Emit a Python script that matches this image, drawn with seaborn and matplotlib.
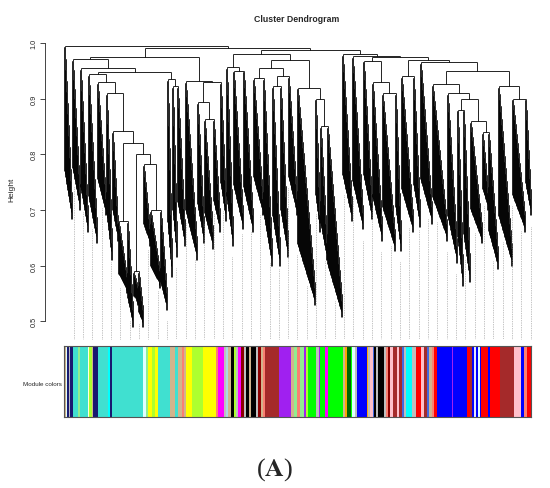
import numpy as np
import matplotlib
matplotlib.use("Agg")
import matplotlib.pyplot as plt
from matplotlib.collections import LineCollection
from matplotlib.colors import ListedColormap
import seaborn as sns

sns.set_style("ticks")
plt.rcParams["font.family"] = ["Liberation Sans", "DejaVu Sans"]
plt.rcParams["mathtext.fontset"] = "stix"

GENES_PER_BIN = 2

# gene-tree branches, left to right: width (bins) and lowest leaf height
branch_width = [8, 8, 8, 9, 9, 6, 6, 9, 6, 5,
                5, 7, 10, 7, 5, 5, 8, 12, 7, 9,
                7, 6, 7, 10, 10, 10, 9, 8, 8, 9,
                18, 5, 7, 15, 10, 11, 9, 10, 13, 6,
                12, 7, 12, 15, 10, 6, 7, 12, 6, 10,
                14, 13, 6]
branch_bottom = [0.683, 0.70, 0.66, 0.64, 0.69, 0.61, 0.645, 0.55, 0.49, 0.53,
                 0.49, 0.635, 0.56, 0.52, 0.58, 0.615, 0.635, 0.61, 0.64, 0.63,
                 0.66, 0.68, 0.635, 0.665, 0.66, 0.69, 0.60, 0.60, 0.615, 0.69,
                 0.53, 0.66, 0.61, 0.507, 0.68, 0.665, 0.683, 0.645, 0.626, 0.626,
                 0.66, 0.67, 0.675, 0.645, 0.605, 0.563, 0.57, 0.64, 0.70, 0.594,
                 0.60, 0.66, 0.69]
# height at which neighbouring branches merge
merge_height = [0.995, 0.971, 0.955, 0.944, 0.93, 0.91, 0.842, 0.68, 0.82, 0.59,
                0.80, 0.782, 0.70, 0.948, 0.935, 0.923, 0.975, 0.932, 0.894, 0.863,
                0.93, 0.991, 0.957, 0.95, 0.98, 0.937, 0.955, 0.923, 0.94, 0.97,
                0.92, 0.90, 0.85, 0.988, 0.98, 0.976, 0.968, 0.93, 0.91, 0.975,
                0.94, 0.97, 0.966, 0.926, 0.91, 0.88, 0.90, 0.86, 0.84, 0.95,
                0.923, 0.90]

# module colour strip, left to right (bins)
module_colors = ["tan", "lightcyan", "midnightblue", "#BEBEBE", "midnightblue", "turquoise", "lightgreen",
                 "turquoise", "lightyellow", "greenyellow", "tan", "midnightblue", "turquoise", "cyan",
                 "midnightblue", "turquoise", "lightcyan", "lightgreen", "yellow", "greenyellow", "yellow",
                 "turquoise", "tan", "turquoise", "tan", "salmon", "tan", "yellow", "greenyellow", "yellow",
                 "salmon", "magenta", "#BEBEBE", "lightblue", "tan", "black", "greenyellow", "#BEBEBE",
                 "magenta", "darkred", "#BEBEBE", "black", "tan", "black", "#BEBEBE", "darkred", "tan",
                 "salmon", "brown", "#A020F0", "tan", "lightgreen", "salmon", "lightgreen", "#A020F0",
                 "greenyellow", "#00FF00", "#BEBEBE", "#A020F0", "#00FF00", "magenta", "#00FF00", "tan",
                 "orange", "darkgreen", "#00FF00", "lightcyan", "#BEBEBE", "blue", "orange", "#BEBEBE",
                 "pink", "royalblue", "black", "#BEBEBE", "black", "#BEBEBE", "salmon", "darkred", "pink",
                 "brown", "pink", "brown", "royalblue", "#BEBEBE", "cyan", "#BEBEBE", "red", "pink", "brown",
                 "royalblue", "tan", "salmon", "red", "blue", "#A020F0", "blue", "red", "brown", "blue",
                 "lavender", "blue", "lightcyan", "blue", "red", "blue", "red", "brown", "pink", "blue",
                 "salmon", "red"]
module_width = [2, 1, 2, 1, 3, 5, 2,
                8, 1, 3, 1, 5, 10, 2,
                2, 31, 3, 2, 4, 3, 3,
                12, 5, 3, 4, 2, 2, 6, 11, 13,
                2, 6, 2, 2, 3, 3, 2, 2,
                3, 3, 2, 3, 2, 5, 2, 3, 2,
                2, 14, 12, 3, 3, 3, 4, 2,
                2, 8, 3, 1, 5, 3, 15, 2,
                2, 4, 1, 3, 2, 10, 1, 2,
                3, 1, 2, 2, 6, 2, 2, 2, 3,
                4, 2, 3, 2, 2, 6, 4, 5, 3, 3,
                2, 3, 2, 3, 15, 1, 14, 3, 2, 2,
                2, 2, 2, 1, 7, 2, 10, 14, 7, 3,
                3, 4]

y_ticks = [0.5, 0.6, 0.7, 0.8, 0.9, 1.0]

HANG = 0.03
DROP = 0.72

widths = np.array(branch_width) * GENES_PER_BIN
starts = np.concatenate([[0], np.cumsum(widths)[:-1]])
n_leaves = int(widths.sum())
leaf_end = np.zeros(n_leaves)
segs = []


def draw_branch(i):
    n = int(widths[i])
    s = int(starts[i])
    left = merge_height[i - 1] if i > 0 else 1.0
    right = merge_height[i] if i < len(merge_height) else 1.0
    top = min(left, right) - 0.003
    bot = branch_bottom[i]
    joins = np.linspace(top, bot + HANG, n - 1)
    xn, hn = s + n - 1, bot
    leaf_end[s + n - 1] = bot
    for j in range(n - 2, -1, -1):
        xj, hj = s + j, joins[j]
        low = hj - max(HANG, DROP * (hj - bot))
        leaf_end[xj] = low
        segs.append([(xj, hj), (xj, low)])
        segs.append([(xj, hj), (xn, hj)])
        segs.append([(xn, hj), (xn, hn)])
        xn, hn = (xj + xn) / 2, hj
    return xn, hn


def build(a, b):
    if a == b:
        return draw_branch(a)
    k = a + int(np.argmax(merge_height[a:b]))
    xl, hl = build(a, k)
    xr, hr = build(k + 1, b)
    h = merge_height[k]
    segs.append([(xl, h), (xr, h)])
    segs.append([(xl, h), (xl, hl)])
    segs.append([(xr, h), (xr, hr)])
    return (xl + xr) / 2, h


build(0, len(branch_width) - 1)

fig = plt.figure(figsize=(5.5, 4.89), dpi=100)
ax = fig.add_axes([64 / 550, 1 - 340 / 489, 467 / 550, 296 / 489])
ax.add_collection(LineCollection(segs, colors="black", linewidths=0.6, clip_on=False))

# guide lines down to the colour strip
guides = np.linspace(0, n_leaves - 1, 51)[1:].round().astype(int)
ymin = 0.468
for g in guides:
    ax.plot([g, g], [leaf_end[g] - 0.02, ymin], color="#8a8a8a", lw=0.5,
            linestyle=(0, (1, 1.5)), clip_on=False)

ax.set_xlim(-0.5, n_leaves - 0.5)
ax.set_ylim(ymin, 1.0)
for side in ["top", "right", "bottom"]:
    ax.spines[side].set_visible(False)
ax.spines["left"].set_position(("outward", 19 * 0.72))
ax.spines["left"].set_bounds(0.5, 1.0)
ax.spines["left"].set_linewidth(0.6)
ax.set_xticks([])
ax.set_yticks(y_ticks)
ax.set_yticklabels([f"{t:.1f}" for t in y_ticks], rotation=90, va="center")
ax.tick_params(axis="y", length=3.5, width=0.6, labelsize=5.3, pad=2)
ax.set_ylabel("Height", fontsize=6)
ax.yaxis.set_label_coords((15 - 64) / 467, (340 - 190) / 296)

fig.text(297 / 550, 1 - 20 / 489, "Cluster Dendrogram", ha="center", va="center",
         fontsize=6.3, fontweight="bold")

# module colour strip
leaf_colors = np.repeat(module_colors, np.array(module_width) * GENES_PER_BIN)
palette = list(dict.fromkeys(module_colors))
codes = np.array([palette.index(c) for c in leaf_colors])[None, :]
cax = fig.add_axes([64 / 550, 1 - 418 / 489, 467 / 550, 71 / 489])
sns.heatmap(codes, cmap=ListedColormap(palette), vmin=-0.5, vmax=len(palette) - 0.5,
            cbar=False, xticklabels=False, yticklabels=False, ax=cax)
for sp in cax.spines.values():
    sp.set_visible(True)
    sp.set_linewidth(0.8)
    sp.set_color("#555555")
fig.text(62 / 550, 1 - 385 / 489, "Module colors", ha="right", va="center", fontsize=4.5)

fig.text(0.5, 1 - 470 / 489, "(" + r"$\mathbf{A}$" + ")", ha="center", va="center",
         fontsize=19, family="Liberation Serif")

fig.savefig("out.png", dpi=100)
